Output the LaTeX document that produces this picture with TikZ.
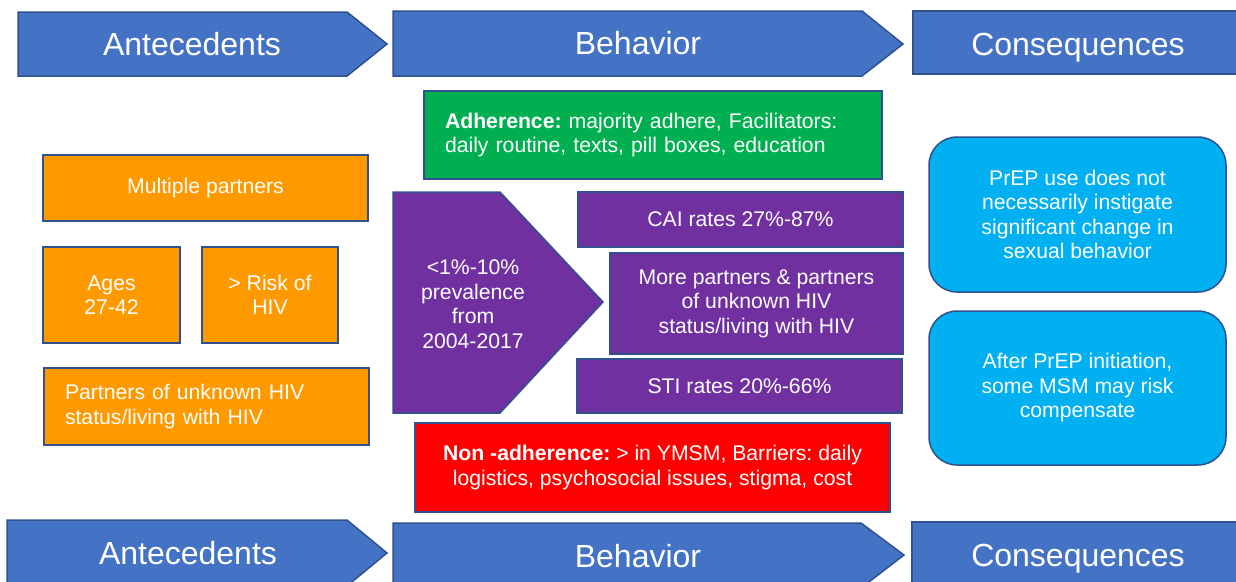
\documentclass[tikz,border=0pt]{standalone}
\usepackage{fontspec}
\setmainfont{Liberation Sans}
\frenchspacing
\definecolor{arrowblue}{HTML}{4472C4}
\definecolor{edgeblue}{HTML}{2F528F}
\definecolor{orangefill}{HTML}{FF9900}
\definecolor{greenfill}{HTML}{00B050}
\definecolor{purplefill}{HTML}{7030A0}
\definecolor{redfill}{HTML}{FF0000}
\definecolor{cyanfill}{HTML}{00B0F0}
\begin{document}
\begin{tikzpicture}[x=1pt,y=-1pt,
  stage/.style={fill=arrowblue,draw=edgeblue,line width=1.5pt,line join=miter},
  stagetext/.style={text=white,font=\fontsize{32}{36}\selectfont,inner sep=0,anchor=base},
  box/.style={draw=edgeblue,line width=1.5pt,inner sep=0,text=white,
    font=\fontsize{21.2}{24.5}\selectfont\frenchspacing,align=center},
  orangebox/.style={box,fill=orangefill},
  purplebox/.style={box,fill=purplefill},
  cyanbox/.style={box,fill=cyanfill,rounded corners=28pt},
]
\useasboundingbox (0,0) rectangle (1236,581);
\clip (0,0) rectangle (1236,581);
% top stage arrows
\path[stage] (18,12) -- (347,12) -- (387,44) -- (347,76) -- (18,76) -- cycle;
\node[stagetext] (antTop) at (192,55.5) {Antecedents};
\path[stage] (393,11) -- (862,11) -- (903,44) -- (862,76) -- (393,76) -- cycle;
\node[stagetext] (behTop) at (638,54.5) {Behavior};
\path[stage] (913,11) rectangle (1240,74);
\node[stagetext] (conTop) at (1078,55.5) {Consequences};
% bottom stage arrows
\path[stage] (7,520) -- (347,520) -- (387,553) -- (347,586) -- (7,586) -- cycle;
\node[stagetext] (antBot) at (188,564.5) {Antecedents};
\path[stage] (393,523) -- (861,523) -- (904,555) -- (861,588) -- (393,588) -- cycle;
\node[stagetext] (behBot) at (638,567.5) {Behavior};
\path[stage] (912,522) rectangle (1240,590);
\node[stagetext] (conBot) at (1078,566.5) {Consequences};
% antecedents
\node[orangebox,minimum width=325pt,minimum height=66pt] (multi) at (205.5,188) {Multiple partners};
\node[orangebox,minimum width=137pt,minimum height=96pt] (ages) at (111.5,295) {Ages\\27-42};
\node[orangebox,minimum width=136pt,minimum height=96pt] (risk) at (270,295) {> Risk of\\HIV};
\node[orangebox,minimum width=325pt,minimum height=77pt,inner xsep=21pt,text width=283pt,align=left] (partners) at (206.5,406.5) {Partners of unknown HIV\\status/living with HIV};
% behavior
\node[box,fill=greenfill,minimum width=458pt,minimum height=88pt,inner xsep=21pt,text width=416pt,align=left] (adh) at (653,135) {\textbf{Adherence:} majority adhere, Facilitators:\\daily routine, texts, pill boxes, education};
\path[purplebox] (393,192) -- (500,192) -- (603,302) -- (500,413) -- (393,413) -- cycle;
\node[box,draw=none] (prev) at (473,304) {<1\%-10\%\\prevalence\\from\\2004-2017};
\node[purplebox,minimum width=325pt,minimum height=55pt] (cai) at (740.5,219.5) {CAI rates 27\%-87\%};
\node[purplebox,minimum width=293pt,minimum height=101pt] (more) at (756.5,303.5) {More partners \& partners\\of unknown HIV\\status/living with HIV};
\node[purplebox,minimum width=325pt,minimum height=54pt] (sti) at (739.5,386) {STI rates 20\%-66\%};
\node[box,fill=redfill,minimum width=475pt,minimum height=89pt] (nonadh) at (652.5,467.5) {\textbf{Non -adherence:} > in YMSM, Barriers: daily\\logistics, psychosocial issues, stigma, cost};
% consequences
\node[cyanbox,minimum width=297pt,minimum height=155pt] (prep) at (1077.5,214.5) {PrEP use does not\\necessarily instigate\\significant change in\\sexual behavior};
\node[cyanbox,minimum width=297pt,minimum height=154pt] (comp) at (1077.5,388) {After PrEP initiation,\\some MSM may risk\\compensate};
\end{tikzpicture}
\end{document}
